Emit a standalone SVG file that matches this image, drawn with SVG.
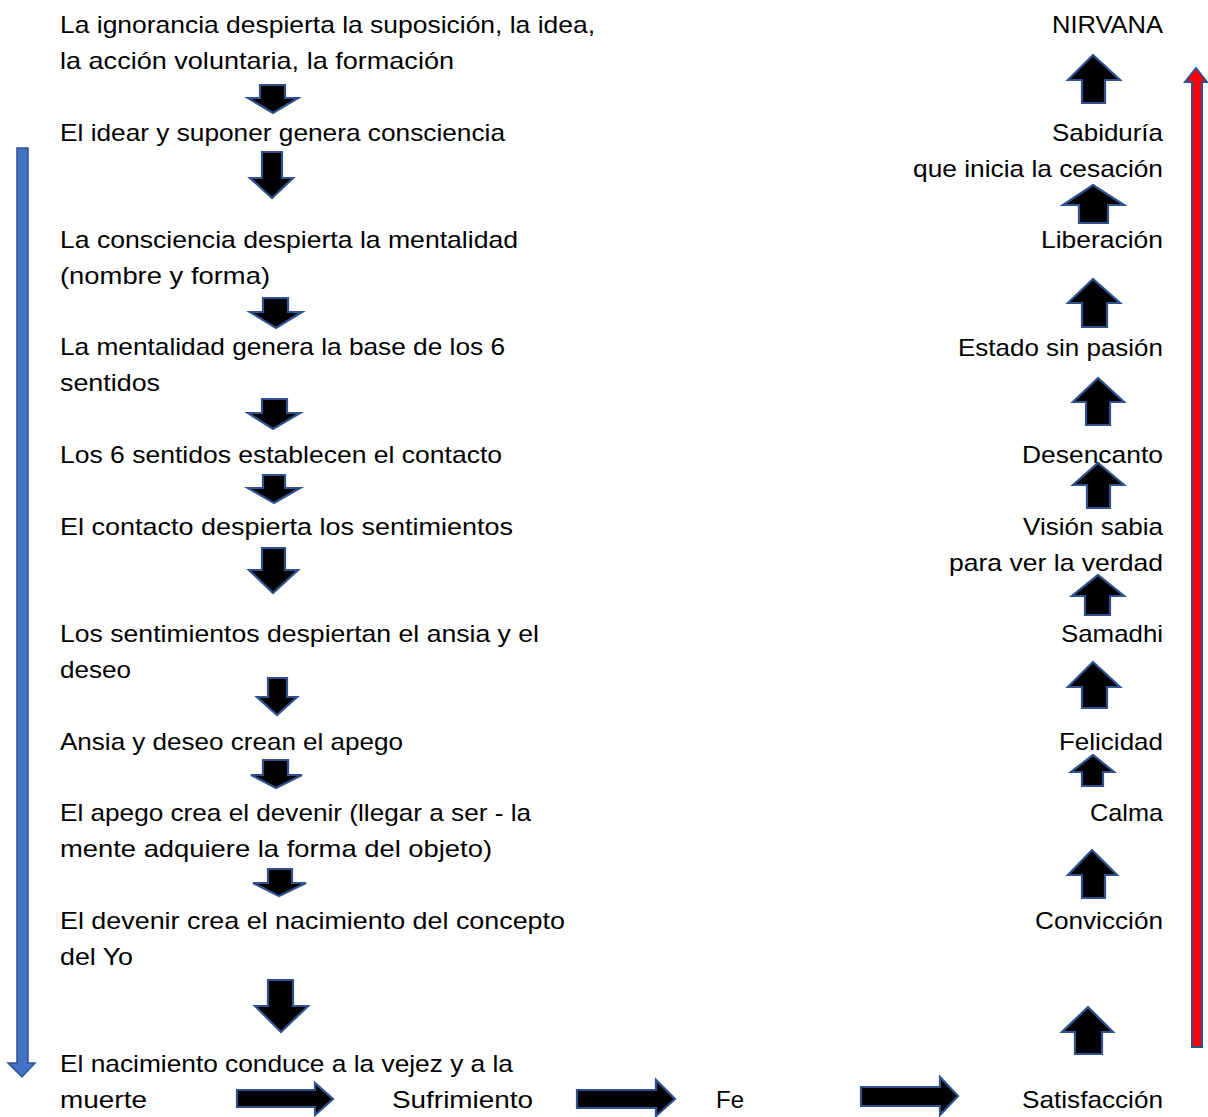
<svg xmlns="http://www.w3.org/2000/svg" width="1208" height="1117" viewBox="0 0 1208 1117">
<style>
text{font-family:"Liberation Sans",Arial,sans-serif;font-size:24px;fill:#000}
.r{text-anchor:end}
.blk{fill:#000;stroke:#2F528F;stroke-width:2.2;stroke-linejoin:miter}
.blue{fill:#4472C4;stroke:#2F528F;stroke-width:1.5}
.red{fill:#FF0000;stroke:#2F528F;stroke-width:2}
</style>
<rect width="1208" height="1117" fill="#fff"/>
<g id="left-column" transform="translate(0,2)">
<g id="n1"><text x="60" y="31" textLength="535" lengthAdjust="spacingAndGlyphs">La ignorancia despierta la suposición, la idea,</text><text x="60" y="67" textLength="394" lengthAdjust="spacingAndGlyphs">la acción voluntaria, la formación</text></g>
<g id="n2"><text x="60" y="139" textLength="445" lengthAdjust="spacingAndGlyphs">El idear y suponer genera consciencia</text></g>
<g id="n3"><text x="60" y="246" textLength="458" lengthAdjust="spacingAndGlyphs">La consciencia despierta la mentalidad</text><text x="60" y="282" textLength="210" lengthAdjust="spacingAndGlyphs">(nombre y forma)</text></g>
<g id="n4"><text x="60" y="353" textLength="445" lengthAdjust="spacingAndGlyphs">La mentalidad genera la base de los 6</text><text x="60" y="389" textLength="100" lengthAdjust="spacingAndGlyphs">sentidos</text></g>
<g id="n5"><text x="60" y="461" textLength="442" lengthAdjust="spacingAndGlyphs">Los 6 sentidos establecen el contacto</text></g>
<g id="n6"><text x="60" y="533" textLength="453" lengthAdjust="spacingAndGlyphs">El contacto despierta los sentimientos</text></g>
<g id="n7"><text x="60" y="640" textLength="479" lengthAdjust="spacingAndGlyphs">Los sentimientos despiertan el ansia y el</text><text x="60" y="676" textLength="71" lengthAdjust="spacingAndGlyphs">deseo</text></g>
<g id="n8"><text x="60" y="748" textLength="343" lengthAdjust="spacingAndGlyphs">Ansia y deseo crean el apego</text></g>
<g id="n9"><text x="60" y="819" textLength="471" lengthAdjust="spacingAndGlyphs">El apego crea el devenir (llegar a ser - la</text><text x="60" y="855" textLength="432" lengthAdjust="spacingAndGlyphs">mente adquiere la forma del objeto)</text></g>
<g id="n10"><text x="60" y="927" textLength="505" lengthAdjust="spacingAndGlyphs">El devenir crea el nacimiento del concepto</text><text x="60" y="963" textLength="73" lengthAdjust="spacingAndGlyphs">del Yo</text></g>
<g id="n11"><text x="60" y="1070" textLength="453" lengthAdjust="spacingAndGlyphs">El nacimiento conduce a la vejez y a la</text><text x="60" y="1106" textLength="87" lengthAdjust="spacingAndGlyphs">muerte</text></g>
</g>
<g id="bottom-row" transform="translate(0,2)">
<g id="sufrimiento"><text x="392" y="1106" textLength="141" lengthAdjust="spacingAndGlyphs">Sufrimiento</text></g>
<g id="fe"><text x="716" y="1106" textLength="28" lengthAdjust="spacingAndGlyphs">Fe</text></g>
</g>
<g id="right-column" transform="translate(0,2)">
<g id="nirvana"><text class="r" x="1163" y="31" textLength="111" lengthAdjust="spacingAndGlyphs">NIRVANA</text></g>
<g id="sabiduria"><text class="r" x="1163" y="139" textLength="111" lengthAdjust="spacingAndGlyphs">Sabiduría</text><text class="r" x="1163" y="175" textLength="250" lengthAdjust="spacingAndGlyphs">que inicia la cesación</text></g>
<g id="liberacion"><text class="r" x="1163" y="246" textLength="122" lengthAdjust="spacingAndGlyphs">Liberación</text></g>
<g id="estado"><text class="r" x="1163" y="354" textLength="205" lengthAdjust="spacingAndGlyphs">Estado sin pasión</text></g>
<g id="desencanto"><text class="r" x="1163" y="461" textLength="141" lengthAdjust="spacingAndGlyphs">Desencanto</text></g>
<g id="vision"><text class="r" x="1163" y="533" textLength="140" lengthAdjust="spacingAndGlyphs">Visión sabia</text><text class="r" x="1163" y="569" textLength="214" lengthAdjust="spacingAndGlyphs">para ver la verdad</text></g>
<g id="samadhi"><text class="r" x="1163" y="640" textLength="102" lengthAdjust="spacingAndGlyphs">Samadhi</text></g>
<g id="felicidad"><text class="r" x="1163" y="748" textLength="104" lengthAdjust="spacingAndGlyphs">Felicidad</text></g>
<g id="calma"><text class="r" x="1163" y="819" textLength="73" lengthAdjust="spacingAndGlyphs">Calma</text></g>
<g id="conviccion"><text class="r" x="1163" y="927" textLength="128" lengthAdjust="spacingAndGlyphs">Convicción</text></g>
<g id="satisfaccion"><text class="r" x="1163" y="1106" textLength="141" lengthAdjust="spacingAndGlyphs">Satisfacción</text></g>
</g>
<g id="connectors">
<path class="blk" d="M260,85H285V98H298L273,113L248,98H260Z"/>
<path class="blk" d="M262,152H282V178H293L272,198L250,178H262Z"/>
<path class="blk" d="M263,298H288V312H302L276,328L250,312H263Z"/>
<path class="blk" d="M262,399H287V413H300L273,429L248,413H262Z"/>
<path class="blk" d="M263,475H285V488H300L274,503L248,488H263Z"/>
<path class="blk" d="M262,548H285V570H298L273,593L249,570H262Z"/>
<path class="blk" d="M268,678H287V697H297L277,715L257,697H268Z"/>
<path class="blk" d="M263,760H288V775H302L276,788L251,775H263Z"/>
<path class="blk" d="M268,869H292V883H306L279,896L253,883H268Z"/>
<path class="blk" d="M268,980H293V1006H308L281,1032L255,1006H268Z"/>
<path class="blk" d="M1082,103V80H1068L1093,55L1120,80H1105V103Z"/>
<path class="blk" d="M1079,223V205H1063L1093,185L1124,205H1108V223Z"/>
<path class="blk" d="M1082,327V303H1068L1093,279L1120,303H1107V327Z"/>
<path class="blk" d="M1086,425V402H1073L1098,378L1124,402H1110V425Z"/>
<path class="blk" d="M1087,508V485H1073L1098,463L1124,485H1110V508Z"/>
<path class="blk" d="M1085,615V596H1072L1098,575L1124,596H1110V615Z"/>
<path class="blk" d="M1082,708V687H1068L1093,662L1120,687H1107V708Z"/>
<path class="blk" d="M1082,786V772H1071L1093,755L1114,772H1103V786Z"/>
<path class="blk" d="M1082,898V875H1068L1092,850L1117,875H1105V898Z"/>
<path class="blk" d="M1075,1054V1032H1062L1088,1007L1113,1032H1102V1054Z"/>
<path class="blk" d="M237,1090H315V1083L333,1099L315,1115V1107H237Z"/>
<path class="blk" d="M577,1090H656V1080L675,1099L656,1116V1108H577Z"/>
<path class="blk" d="M861,1087H940V1077L958,1096L940,1115V1106H861Z"/>
<path class="blue" d="M17,148H28V1063H35L22,1077L8,1063H17Z"/>
<path class="red" d="M1192,1047V82H1185L1196,68L1207,82H1202V1047Z"/>
</g>
</svg>
